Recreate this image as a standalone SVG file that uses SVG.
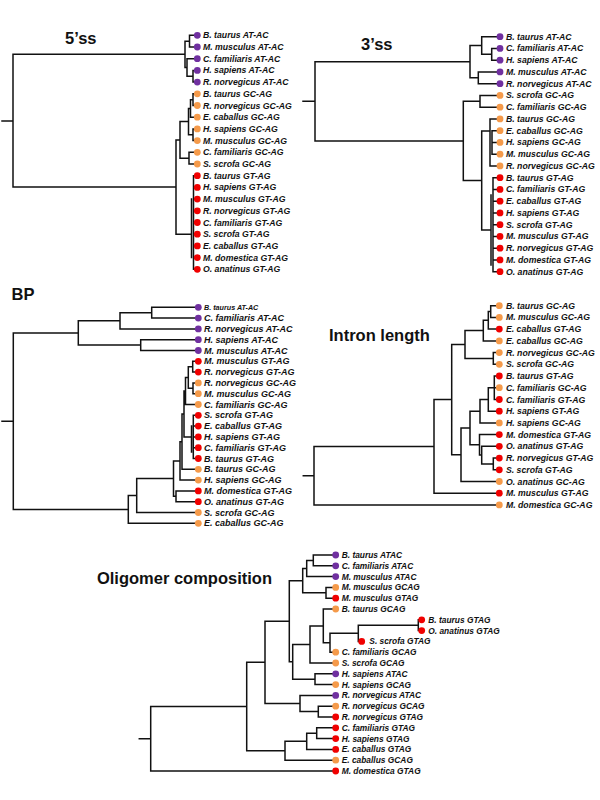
<svg xmlns="http://www.w3.org/2000/svg" width="600" height="800" viewBox="0 0 600 800">
<style>
.e{fill:none;stroke:#111;stroke-width:1.5;stroke-linecap:square}
.ttl{font-family:"Liberation Sans",Arial,sans-serif;font-weight:bold;font-size:16.5px;fill:#111}
.t{font-family:"Liberation Sans",Arial,sans-serif;font-weight:bold;font-style:italic;font-size:8.7px;fill:#111}
.tb{font-family:"Liberation Sans",Arial,sans-serif;font-weight:bold;font-style:italic;font-size:9px;fill:#111}
.ts{font-family:"Liberation Sans",Arial,sans-serif;font-weight:bold;font-style:italic;font-size:7.2px;fill:#111}
.to{font-family:"Liberation Sans",Arial,sans-serif;font-weight:bold;font-style:italic;font-size:8.4px;fill:#111}
.p{fill:#7030a0}.o{fill:#f59a4a}.r{fill:#f00000}
circle{r:3.4px}
</style>
<rect width="600" height="800" fill="#fff"/>
<g id="titles">
<text class="ttl" x="65" y="43.5">5’ss</text>
<text class="ttl" x="361" y="50">3’ss</text>
<text class="ttl" x="11.5" y="300">BP</text>
<text class="ttl" x="329" y="341">Intron length</text>
<text class="ttl" x="272" y="584" text-anchor="end">Oligomer composition</text>
</g>
<g id="connectors">
<path class="e" d="M2,121H13M13,54.3V187M13,54.3H185M185,41.2V67.5M185,41.2H189.5M189.5,35.3V47M189.5,35.3H197M189.5,47H197M185,67.5H187M187,58.7V76.3M187,58.7H197M187,76.3H193M193,70.4V82.1M193,70.4H197M193,82.1H197M13,187H176M176,139.9V234.2M176,139.9H180M180,121.6V158.15M180,121.6H188.5M188.5,108.4V134.75M188.5,108.4H190.5M190.5,99.65V117.2M190.5,99.65H193M193,93.8V105.5M193,93.8H197M193,105.5H197M190.5,117.2H197M188.5,134.75H193M193,128.9V140.6M193,128.9H197M193,140.6H197M180,158.15H189M189,152.3V164M189,152.3H197M189,164H197M176,234.2H191.5M191.5,199.1V257.6M193.5,175.7V269.3M193.5,175.7H197M193.5,187.4H197M193.5,199.1H197M193.5,210.8H197M193.5,222.5H197M193.5,234.2H197M193.5,245.9H197M193.5,257.6H197M193.5,269.3H197"/>
<path class="e" d="M303,101.3H315M315,61.65V140.9M315,61.65H470M470,45.5V77.8M470,45.5H481.7M481.7,36.7V54.3M481.7,36.7H500M481.7,54.3H491.7M491.7,48.45V60.2M491.7,48.45H500M491.7,60.2H500M470,77.8H478.3M478.3,71.95V83.7M478.3,71.95H500M478.3,83.7H500M315,140.9H463.3M463.3,101.3V180.5M463.3,101.3H480M480,95.45V107.2M480,95.45H500M480,107.2H500M463.3,180.5H481.7M481.7,131V230M481.7,131H490M490,118.95V165.95M492,130.7V154.2M490,118.95H500M492,130.7H500M492,142.45H500M492,154.2H500M490,165.95H500M481.7,230H491M491,195V265M493,177.7V271.7M493,177.7H500M493,189.45H500M493,201.2H500M493,212.95H500M493,224.7H500M493,236.45H500M493,248.2H500M493,259.95H500M493,271.7H500"/>
<path class="e" d="M2,421.2H13.3M13.3,333V509.4M13.3,333H78.3M78.3,320.8V345.1M78.3,320.8H120M120,312.7V328.9M120,312.7H151.7M151.7,307.3V318.1M151.7,307.3H198M151.7,318.1H198M120,328.9H198M78.3,345.1H140.7M140.7,339.7V350.5M140.7,339.7H198M140.7,350.5H198M13.3,509.4H128.3M128.3,495.5V523.3M128.3,523.3H198M128.3,495.5H136.7M136.7,478.6V512.5M136.7,512.5H198M136.7,478.6H173.5M173.5,460.9V496.3M173.5,496.3H176M176,490.9V501.7M176,490.9H198M176,501.7H198M173.5,460.9H180M180,441.7V480.1M180,480.1H198M180,441.7H182M182,414V469.3M182,469.3H198M182,414H184M184,391V436.9M184,436.9H191.5M191.5,426.1V452M193.3,415.3V458.5M193.3,415.3H198M193.3,426.1H198M193.3,436.9H198M193.3,447.7H198M193.3,458.5H198M184,391H185.5M185.5,377.5V404.5M185.5,404.5H198M185.5,377.5H188.3M188.3,366.7V388.3M188.3,366.7H192.7M192.7,361.3V372.1M192.7,361.3H198M192.7,372.1H198M188.3,388.3H193M193,382.9V393.7M193,382.9H198M193,393.7H198"/>
<path class="e" d="M303.3,475.65H314M314,446.4V504.9M314,504.9H499M314,446.4H434M434,399.6V493.2M434,493.2H499M434,399.6H451.7M451.7,344.5V454.75M451.7,344.5H465M465,330.6V358.45M465,330.6H483.3M483.3,320.3V340.9M483.3,340.9H499M483.3,320.3H488.3M488.3,311.55V329.1M488.3,329.1H499M488.3,311.55H490.7M490.7,305.7V317.4M490.7,305.7H499M490.7,317.4H499M465,358.45H493.3M493.3,352.6V364.3M493.3,352.6H499M493.3,364.3H499M451.7,454.75H461M461,428V481.5M461,481.5H499M461,428H470M470,411.2V444.85M470,411.2H480M480,399.45V422.9M480,422.9H499M480,399.45H488.3M488.3,387.7V411.2M488.3,411.2H499M488.3,387.7H494.3M494.3,376V399.5M494.3,376H499M494.3,387.7H499M494.3,399.5H499M470,444.85H479.5M479.5,434.6V455.1M479.5,434.6H499M479.5,455.1H481.7M481.7,446.3V463.95M481.7,446.3H499M481.7,463.95H493.3M493.3,458.1V469.8M493.3,458.1H499M493.3,469.8H499"/>
<path class="e" d="M139.3,738.8H150.7M150.7,706.55V771M150.7,771H335M150.7,706.55H246.7M246.7,662.35V750.75M246.7,750.75H285M285,741.3V760.2M285,760.2H335M285,741.3H306.7M306.7,733.2V749.4M306.7,749.4H335M306.7,733.2H316.7M316.7,727.8V738.6M316.7,727.8H335M316.7,738.6H335M246.7,662.35H265M265,621.2V703.5M265,703.5H300M300,695.4V711.6M300,695.4H335M300,711.6H318.3M318.3,706.2V717M318.3,706.2H335M318.3,717H335M265,621.2H289.3M289.3,580.65V661.8M289.3,580.65H302.7M302.7,568.5V592.8M302.7,568.5H306.7M306.7,560.4V576.6M306.7,576.6H335M306.7,560.4H313.3M313.3,555V565.8M313.3,555H335M313.3,565.8H335M302.7,592.8H326M326,587.4V598.2M326,587.4H335M326,598.2H335M289.3,661.8H292.7M292.7,644.45V679.2M292.7,679.2H315M315,673.8V684.6M315,673.8H335M315,684.6H335M292.7,644.45H310M310,625.9V663M310,663H335M310,625.9H323.3M323.3,609V642.75M323.3,609H335M323.3,642.75H330M330,633.3V652.2M330,652.2H335M330,633.3H358.3M358.3,625.2V641.4M358.3,641.4H361M358.3,625.2H418.3M418.3,619.8V630.6M418.3,619.8H421M418.3,630.6H421"/>
</g>
<g id="tree-5ss">
<g id="s5-1"><circle class="p" cx="197.3" cy="35.3" r="3.4"/><text class="t" x="203" y="38.3">B. taurus AT-AC</text></g>
<g id="s5-2"><circle class="p" cx="197.3" cy="47" r="3.4"/><text class="t" x="203" y="50">M. musculus AT-AC</text></g>
<g id="s5-3"><circle class="p" cx="197.3" cy="58.7" r="3.4"/><text class="t" x="203" y="61.7">C. familiaris AT-AC</text></g>
<g id="s5-4"><circle class="p" cx="197.3" cy="70.4" r="3.4"/><text class="t" x="203" y="73.4">H. sapiens AT-AC</text></g>
<g id="s5-5"><circle class="p" cx="197.3" cy="82.1" r="3.4"/><text class="t" x="203" y="85.1">R. norvegicus AT-AC</text></g>
<g id="s5-6"><circle class="o" cx="197.3" cy="93.8" r="3.4"/><text class="t" x="203" y="96.8">B. taurus GC-AG</text></g>
<g id="s5-7"><circle class="o" cx="197.3" cy="105.5" r="3.4"/><text class="t" x="203" y="108.5">R. norvegicus GC-AG</text></g>
<g id="s5-8"><circle class="o" cx="197.3" cy="117.2" r="3.4"/><text class="t" x="203" y="120.2">E. caballus GC-AG</text></g>
<g id="s5-9"><circle class="o" cx="197.3" cy="128.9" r="3.4"/><text class="t" x="203" y="131.9">H. sapiens GC-AG</text></g>
<g id="s5-10"><circle class="o" cx="197.3" cy="140.6" r="3.4"/><text class="t" x="203" y="143.6">M. musculus GC-AG</text></g>
<g id="s5-11"><circle class="o" cx="197.3" cy="152.3" r="3.4"/><text class="t" x="203" y="155.3">C. familiaris GC-AG</text></g>
<g id="s5-12"><circle class="o" cx="197.3" cy="164" r="3.4"/><text class="t" x="203" y="167">S. scrofa GC-AG</text></g>
<g id="s5-13"><circle class="r" cx="197.3" cy="175.7" r="3.4"/><text class="t" x="203" y="178.7">B. taurus GT-AG</text></g>
<g id="s5-14"><circle class="r" cx="197.3" cy="187.4" r="3.4"/><text class="t" x="203" y="190.4">H. sapiens GT-AG</text></g>
<g id="s5-15"><circle class="r" cx="197.3" cy="199.1" r="3.4"/><text class="t" x="203" y="202.1">M. musculus GT-AG</text></g>
<g id="s5-16"><circle class="r" cx="197.3" cy="210.8" r="3.4"/><text class="t" x="203" y="213.8">R. norvegicus GT-AG</text></g>
<g id="s5-17"><circle class="r" cx="197.3" cy="222.5" r="3.4"/><text class="t" x="203" y="225.5">C. familiaris GT-AG</text></g>
<g id="s5-18"><circle class="r" cx="197.3" cy="234.2" r="3.4"/><text class="t" x="203" y="237.2">S. scrofa GT-AG</text></g>
<g id="s5-19"><circle class="r" cx="197.3" cy="245.9" r="3.4"/><text class="t" x="203" y="248.9">E. caballus GT-AG</text></g>
<g id="s5-20"><circle class="r" cx="197.3" cy="257.6" r="3.4"/><text class="t" x="203" y="260.6">M. domestica GT-AG</text></g>
<g id="s5-21"><circle class="r" cx="197.3" cy="269.3" r="3.4"/><text class="t" x="203" y="272.3">O. anatinus GT-AG</text></g>
</g>
<g id="tree-3ss">
<g id="s3-1"><circle class="p" cx="500" cy="36.7" r="3.4"/><text class="t" x="506" y="39.7">B. taurus AT-AC</text></g>
<g id="s3-2"><circle class="p" cx="500" cy="48.45" r="3.4"/><text class="t" x="506" y="51.45">C. familiaris AT-AC</text></g>
<g id="s3-3"><circle class="p" cx="500" cy="60.2" r="3.4"/><text class="t" x="506" y="63.2">H. sapiens AT-AC</text></g>
<g id="s3-4"><circle class="p" cx="500" cy="71.95" r="3.4"/><text class="t" x="506" y="74.95">M. musculus AT-AC</text></g>
<g id="s3-5"><circle class="p" cx="500" cy="83.7" r="3.4"/><text class="t" x="506" y="86.7">R. norvegicus AT-AC</text></g>
<g id="s3-6"><circle class="o" cx="500" cy="95.45" r="3.4"/><text class="t" x="506" y="98.45">S. scrofa GC-AG</text></g>
<g id="s3-7"><circle class="o" cx="500" cy="107.2" r="3.4"/><text class="t" x="506" y="110.2">C. familiaris GC-AG</text></g>
<g id="s3-8"><circle class="o" cx="500" cy="118.95" r="3.4"/><text class="t" x="506" y="121.95">B. taurus GC-AG</text></g>
<g id="s3-9"><circle class="o" cx="500" cy="130.7" r="3.4"/><text class="t" x="506" y="133.7">E. caballus GC-AG</text></g>
<g id="s3-10"><circle class="o" cx="500" cy="142.45" r="3.4"/><text class="t" x="506" y="145.45">H. sapiens GC-AG</text></g>
<g id="s3-11"><circle class="o" cx="500" cy="154.2" r="3.4"/><text class="t" x="506" y="157.2">M. musculus GC-AG</text></g>
<g id="s3-12"><circle class="o" cx="500" cy="165.95" r="3.4"/><text class="t" x="506" y="168.95">R. norvegicus GC-AG</text></g>
<g id="s3-13"><circle class="r" cx="500" cy="177.7" r="3.4"/><text class="t" x="506" y="180.7">B. taurus GT-AG</text></g>
<g id="s3-14"><circle class="r" cx="500" cy="189.45" r="3.4"/><text class="t" x="506" y="192.45">C. familiaris GT-AG</text></g>
<g id="s3-15"><circle class="r" cx="500" cy="201.2" r="3.4"/><text class="t" x="506" y="204.2">E. caballus GT-AG</text></g>
<g id="s3-16"><circle class="r" cx="500" cy="212.95" r="3.4"/><text class="t" x="506" y="215.95">H. sapiens GT-AG</text></g>
<g id="s3-17"><circle class="r" cx="500" cy="224.7" r="3.4"/><text class="t" x="506" y="227.7">S. scrofa GT-AG</text></g>
<g id="s3-18"><circle class="r" cx="500" cy="236.45" r="3.4"/><text class="t" x="506" y="239.45">M. musculus GT-AG</text></g>
<g id="s3-19"><circle class="r" cx="500" cy="248.2" r="3.4"/><text class="t" x="506" y="251.2">R. norvegicus GT-AG</text></g>
<g id="s3-20"><circle class="r" cx="500" cy="259.95" r="3.4"/><text class="t" x="506" y="262.95">M. domestica GT-AG</text></g>
<g id="s3-21"><circle class="r" cx="500" cy="271.7" r="3.4"/><text class="t" x="506" y="274.7">O. anatinus GT-AG</text></g>
</g>
<g id="tree-bp">
<g id="bp-1"><circle class="p" cx="198.3" cy="307.3" r="2.6"/><text class="ts" x="204" y="309.9">B. taurus AT-AC</text></g>
<g id="bp-2"><circle class="p" cx="198.3" cy="318.1" r="3.4"/><text class="tb" x="204" y="321.2">C. familiaris AT-AC</text></g>
<g id="bp-3"><circle class="p" cx="198.3" cy="328.9" r="3.4"/><text class="tb" x="204" y="332">R. norvegicus AT-AC</text></g>
<g id="bp-4"><circle class="p" cx="198.3" cy="339.7" r="3.4"/><text class="tb" x="204" y="342.8">H. sapiens AT-AC</text></g>
<g id="bp-5"><circle class="p" cx="198.3" cy="350.5" r="3.4"/><text class="tb" x="204" y="353.6">M. musculus AT-AC</text></g>
<g id="bp-6"><circle class="r" cx="198.3" cy="361.3" r="3.4"/><text class="tb" x="204" y="364.4">M. musculus GT-AG</text></g>
<g id="bp-7"><circle class="r" cx="198.3" cy="372.1" r="3.4"/><text class="tb" x="204" y="375.2">R. norvegicus GT-AG</text></g>
<g id="bp-8"><circle class="o" cx="198.3" cy="382.9" r="3.4"/><text class="tb" x="204" y="386">R. norvegicus GC-AG</text></g>
<g id="bp-9"><circle class="o" cx="198.3" cy="393.7" r="3.4"/><text class="tb" x="204" y="396.8">M. musculus GC-AG</text></g>
<g id="bp-10"><circle class="o" cx="198.3" cy="404.5" r="3.4"/><text class="tb" x="204" y="407.6">C. familiaris GC-AG</text></g>
<g id="bp-11"><circle class="r" cx="198.3" cy="415.3" r="3.4"/><text class="tb" x="204" y="418.4">S. scrofa GT-AG</text></g>
<g id="bp-12"><circle class="r" cx="198.3" cy="426.1" r="3.4"/><text class="tb" x="204" y="429.2">E. caballus GT-AG</text></g>
<g id="bp-13"><circle class="r" cx="198.3" cy="436.9" r="3.4"/><text class="tb" x="204" y="440">H. sapiens GT-AG</text></g>
<g id="bp-14"><circle class="r" cx="198.3" cy="447.7" r="3.4"/><text class="tb" x="204" y="450.8">C. familiaris GT-AG</text></g>
<g id="bp-15"><circle class="r" cx="198.3" cy="458.5" r="3.4"/><text class="tb" x="204" y="461.6">B. taurus GT-AG</text></g>
<g id="bp-16"><circle class="o" cx="198.3" cy="469.3" r="3.4"/><text class="tb" x="204" y="472.4">B. taurus GC-AG</text></g>
<g id="bp-17"><circle class="o" cx="198.3" cy="480.1" r="3.4"/><text class="tb" x="204" y="483.2">H. sapiens GC-AG</text></g>
<g id="bp-18"><circle class="r" cx="198.3" cy="490.9" r="3.4"/><text class="tb" x="204" y="494">M. domestica GT-AG</text></g>
<g id="bp-19"><circle class="r" cx="198.3" cy="501.7" r="3.4"/><text class="tb" x="204" y="504.8">O. anatinus GT-AG</text></g>
<g id="bp-20"><circle class="o" cx="198.3" cy="512.5" r="3.4"/><text class="tb" x="204" y="515.6">S. scrofa GC-AG</text></g>
<g id="bp-21"><circle class="o" cx="198.3" cy="523.3" r="3.4"/><text class="tb" x="204" y="526.4">E. caballus GC-AG</text></g>
</g>
<g id="tree-intron">
<g id="il-1"><circle class="o" cx="499.3" cy="305.7" r="3.4"/><text class="t" x="506" y="308.7">B. taurus GC-AG</text></g>
<g id="il-2"><circle class="o" cx="499.3" cy="317.4" r="3.4"/><text class="t" x="506" y="320.4">M. musculus GC-AG</text></g>
<g id="il-3"><circle class="r" cx="499.3" cy="329.1" r="3.4"/><text class="t" x="506" y="332.1">E. caballus GT-AG</text></g>
<g id="il-4"><circle class="o" cx="499.3" cy="340.9" r="3.4"/><text class="t" x="506" y="343.9">E. caballus GC-AG</text></g>
<g id="il-5"><circle class="o" cx="499.3" cy="352.6" r="3.4"/><text class="t" x="506" y="355.6">R. norvegicus GC-AG</text></g>
<g id="il-6"><circle class="o" cx="499.3" cy="364.3" r="3.4"/><text class="t" x="506" y="367.3">S. scrofa GC-AG</text></g>
<g id="il-7"><circle class="r" cx="499.3" cy="376" r="3.4"/><text class="t" x="506" y="379">B. taurus GT-AG</text></g>
<g id="il-8"><circle class="o" cx="499.3" cy="387.7" r="3.4"/><text class="t" x="506" y="390.7">C. familiaris GC-AG</text></g>
<g id="il-9"><circle class="r" cx="499.3" cy="399.5" r="3.4"/><text class="t" x="506" y="402.5">C. familiaris GT-AG</text></g>
<g id="il-10"><circle class="r" cx="499.3" cy="411.2" r="3.4"/><text class="t" x="506" y="414.2">H. sapiens GT-AG</text></g>
<g id="il-11"><circle class="o" cx="499.3" cy="422.9" r="3.4"/><text class="t" x="506" y="425.9">H. sapiens GC-AG</text></g>
<g id="il-12"><circle class="r" cx="499.3" cy="434.6" r="3.4"/><text class="t" x="506" y="437.6">M. domestica GT-AG</text></g>
<g id="il-13"><circle class="r" cx="499.3" cy="446.3" r="3.4"/><text class="t" x="506" y="449.3">O. anatinus GT-AG</text></g>
<g id="il-14"><circle class="r" cx="499.3" cy="458.1" r="3.4"/><text class="t" x="506" y="461.1">R. norvegicus GT-AG</text></g>
<g id="il-15"><circle class="r" cx="499.3" cy="469.8" r="3.4"/><text class="t" x="506" y="472.8">S. scrofa GT-AG</text></g>
<g id="il-16"><circle class="o" cx="499.3" cy="481.5" r="3.4"/><text class="t" x="506" y="484.5">O. anatinus GC-AG</text></g>
<g id="il-17"><circle class="r" cx="499.3" cy="493.2" r="3.4"/><text class="t" x="506" y="496.2">M. musculus GT-AG</text></g>
<g id="il-18"><circle class="o" cx="499.3" cy="504.9" r="3.4"/><text class="t" x="506" y="507.9">M. domestica GC-AG</text></g>
</g>
<g id="tree-oligomer">
<g id="ol-1"><circle class="p" cx="335.7" cy="555" r="3.4"/><text class="to" x="341.7" y="558">B. taurus ATAC</text></g>
<g id="ol-2"><circle class="p" cx="335.7" cy="565.8" r="3.4"/><text class="to" x="341.7" y="568.8">C. familiaris ATAC</text></g>
<g id="ol-3"><circle class="p" cx="335.7" cy="576.6" r="3.4"/><text class="to" x="341.7" y="579.6">M. musculus ATAC</text></g>
<g id="ol-4"><circle class="o" cx="335.7" cy="587.4" r="3.4"/><text class="to" x="341.7" y="590.4">M. musculus GCAG</text></g>
<g id="ol-5"><circle class="r" cx="335.7" cy="598.2" r="3.4"/><text class="to" x="341.7" y="601.2">M. musculus GTAG</text></g>
<g id="ol-6"><circle class="o" cx="335.7" cy="609" r="3.4"/><text class="to" x="341.7" y="612">B. taurus GCAG</text></g>
<g id="ol-7"><circle class="r" cx="421.7" cy="619.8" r="3.4"/><text class="to" x="428.3" y="622.8">B. taurus GTAG</text></g>
<g id="ol-8"><circle class="r" cx="421.7" cy="630.6" r="3.4"/><text class="to" x="428.3" y="633.6">O. anatinus GTAG</text></g>
<g id="ol-9"><circle class="r" cx="361.7" cy="641.4" r="3.4"/><text class="to" x="369.3" y="644.4">S. scrofa GTAG</text></g>
<g id="ol-10"><circle class="o" cx="335.7" cy="652.2" r="3.4"/><text class="to" x="341.7" y="655.2">C. familiaris GCAG</text></g>
<g id="ol-11"><circle class="o" cx="335.7" cy="663" r="3.4"/><text class="to" x="341.7" y="666">S. scrofa GCAG</text></g>
<g id="ol-12"><circle class="p" cx="335.7" cy="673.8" r="3.4"/><text class="to" x="341.7" y="676.8">H. sapiens ATAC</text></g>
<g id="ol-13"><circle class="o" cx="335.7" cy="684.6" r="3.4"/><text class="to" x="341.7" y="687.6">H. sapiens GCAG</text></g>
<g id="ol-14"><circle class="p" cx="335.7" cy="695.4" r="3.4"/><text class="to" x="341.7" y="698.4">R. norvegicus ATAC</text></g>
<g id="ol-15"><circle class="o" cx="335.7" cy="706.2" r="3.4"/><text class="to" x="341.7" y="709.2">R. norvegicus GCAG</text></g>
<g id="ol-16"><circle class="r" cx="335.7" cy="717" r="3.4"/><text class="to" x="341.7" y="720">R. norvegicus GTAG</text></g>
<g id="ol-17"><circle class="r" cx="335.7" cy="727.8" r="3.4"/><text class="to" x="341.7" y="730.8">C. familiaris GTAG</text></g>
<g id="ol-18"><circle class="r" cx="335.7" cy="738.6" r="3.4"/><text class="to" x="341.7" y="741.6">H. sapiens GTAG</text></g>
<g id="ol-19"><circle class="r" cx="335.7" cy="749.4" r="3.4"/><text class="to" x="341.7" y="752.4">E. caballus GTAG</text></g>
<g id="ol-20"><circle class="o" cx="335.7" cy="760.2" r="3.4"/><text class="to" x="341.7" y="763.2">E. caballus GCAG</text></g>
<g id="ol-21"><circle class="r" cx="335.7" cy="771" r="3.4"/><text class="to" x="341.7" y="774">M. domestica GTAG</text></g>
</g>
</svg>
